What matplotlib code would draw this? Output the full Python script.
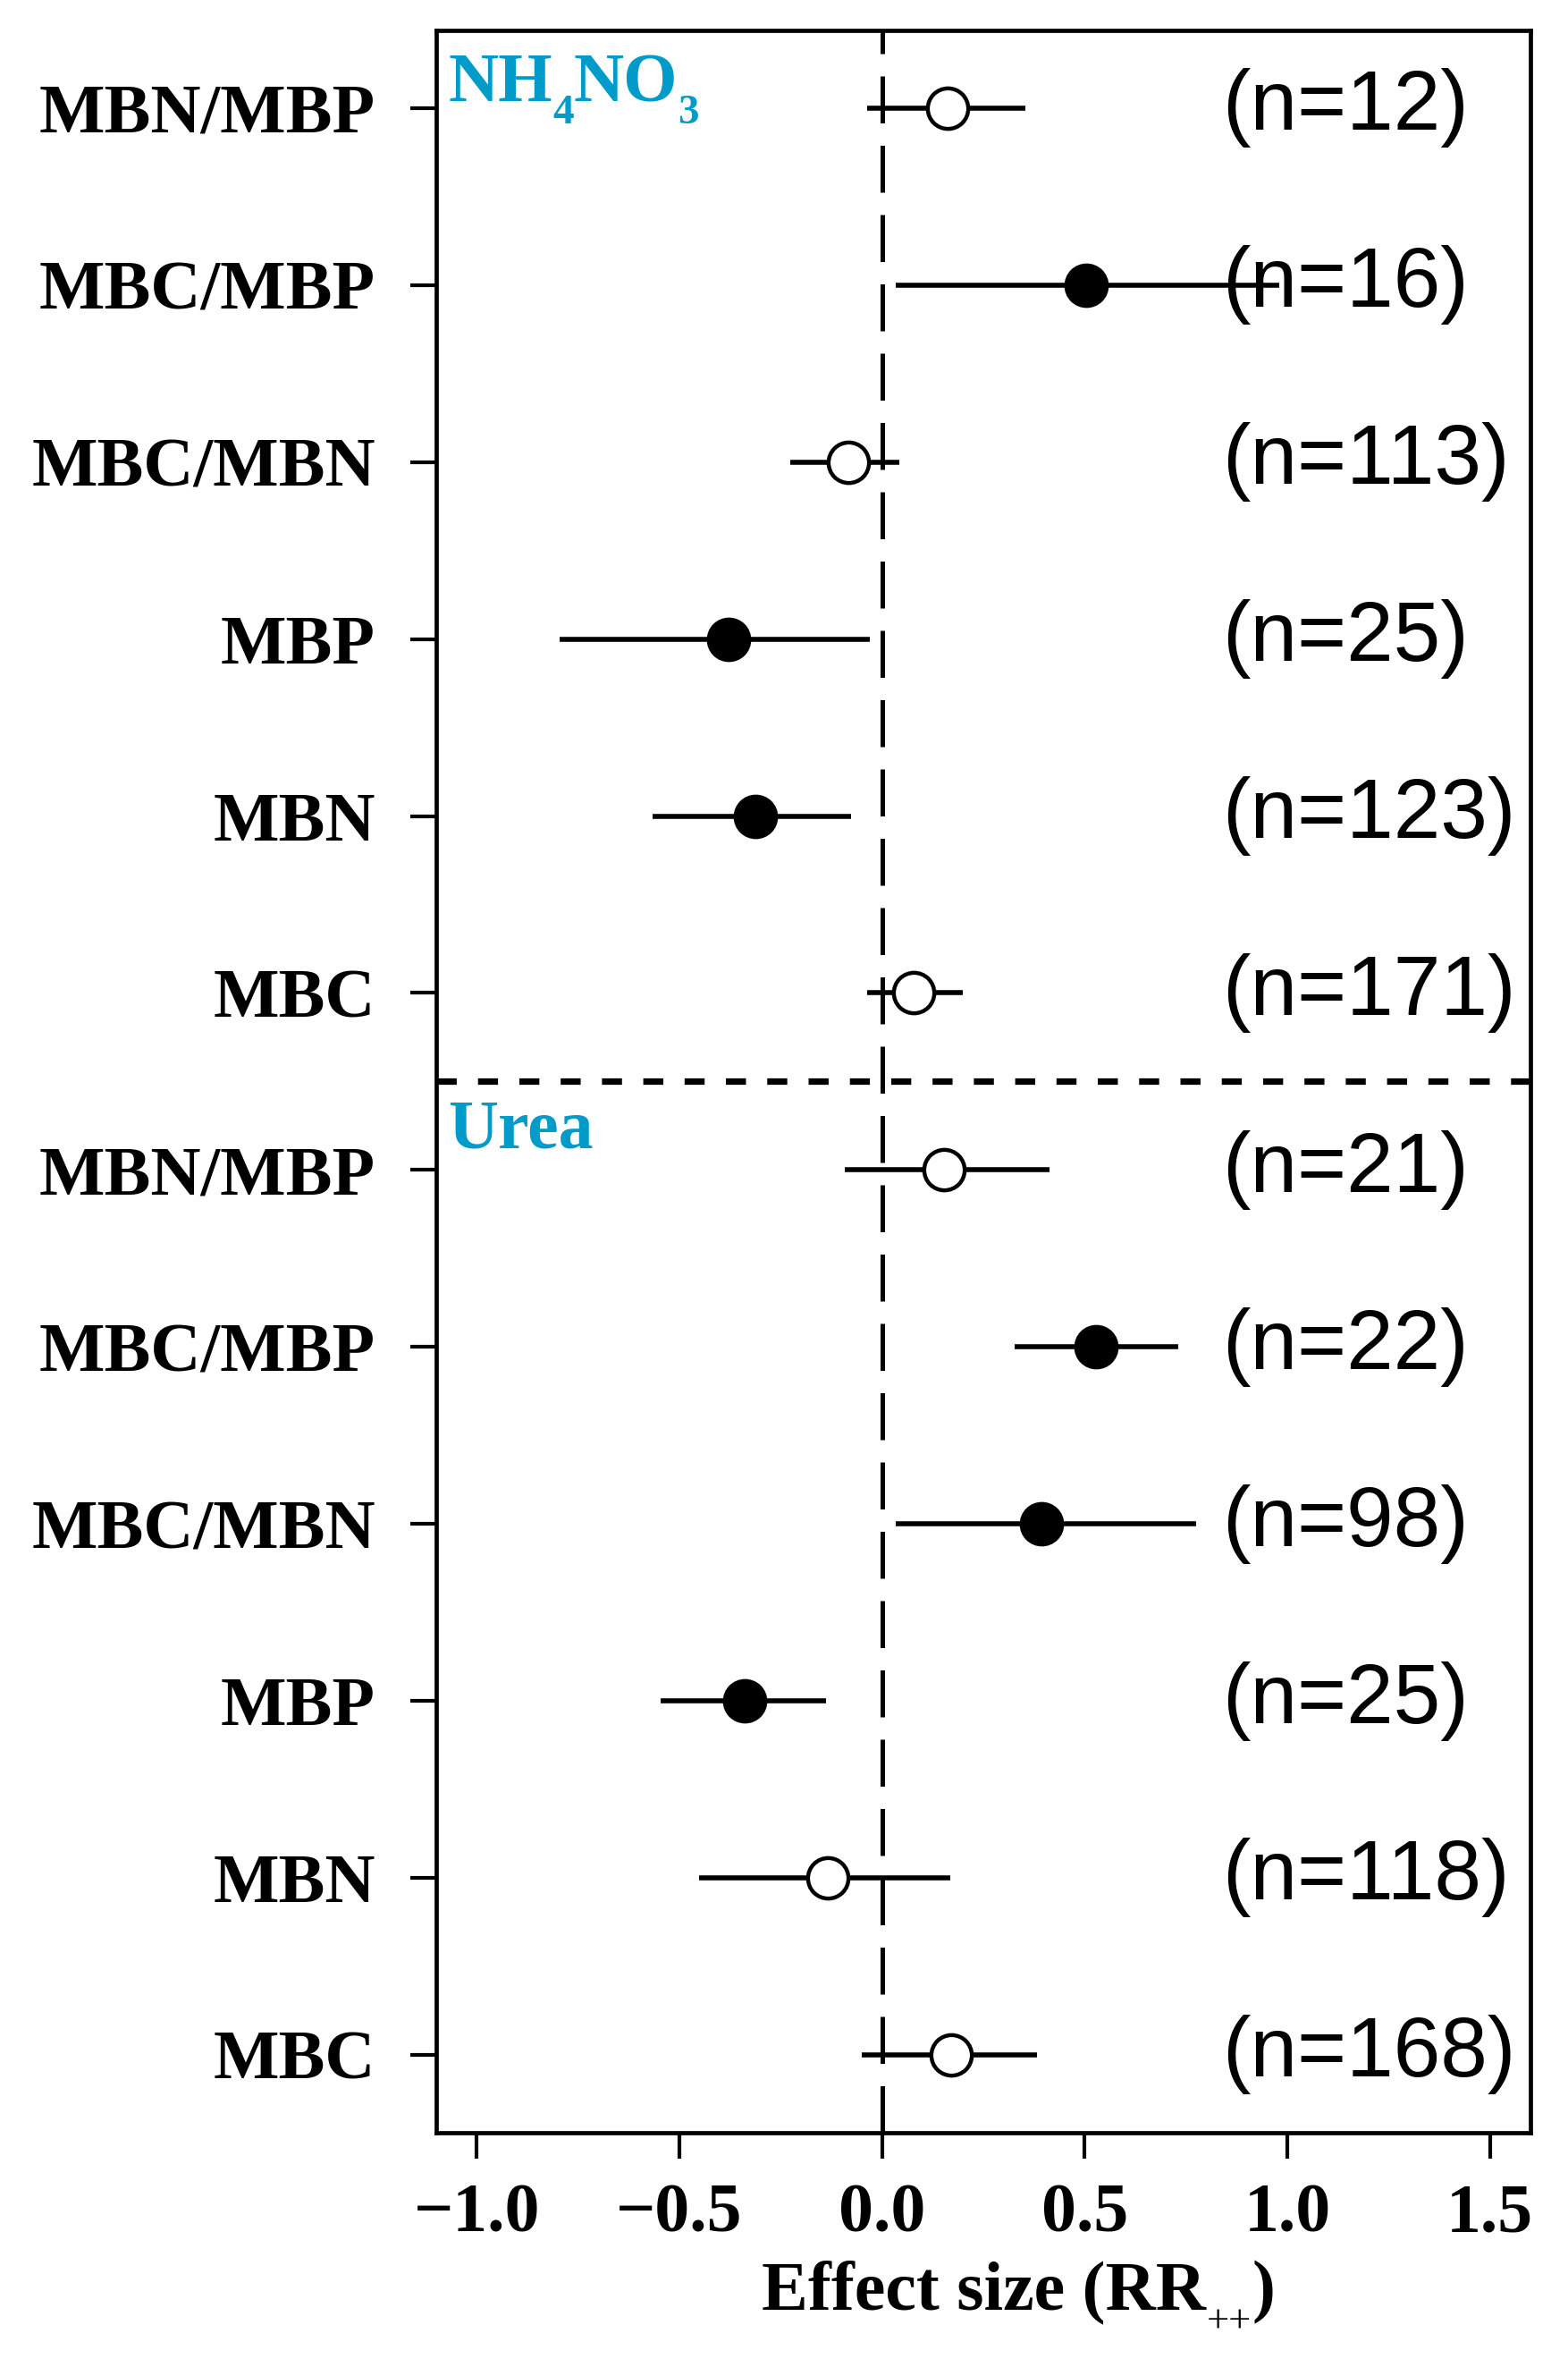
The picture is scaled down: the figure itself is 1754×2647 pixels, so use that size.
import matplotlib
matplotlib.use("Agg")
import matplotlib.pyplot as plt
import numpy as np

# rows listed top to bottom inside each fertilizer block
labels = ["MBN/MBP", "MBC/MBP", "MBC/MBN", "MBP", "MBN", "MBC"]

nh4_mean = [0.162, 0.504, -0.083, -0.379, -0.312, 0.079]
nh4_lo = [-0.037, 0.034, -0.226, -0.795, -0.567, -0.037]
nh4_hi = [0.354, 0.980, 0.043, -0.031, -0.077, 0.199]
nh4_n = [12, 16, 113, 25, 123, 171]

urea_mean = [0.154, 0.528, 0.394, -0.340, -0.133, 0.171]
urea_lo = [-0.092, 0.327, 0.034, -0.546, -0.451, -0.050]
urea_hi = [0.414, 0.731, 0.775, -0.139, 0.169, 0.382]
urea_n = [21, 22, 98, 25, 118, 168]

xticks = [-1.0, -0.5, 0.0, 0.5, 1.0, 1.5]

plt.rcParams['font.family'] = 'Liberation Serif'
plt.rcParams['font.weight'] = 'bold'
teal = '#009BC8'

fig = plt.figure(figsize=(8.77, 13.235), dpi=200)
ax = fig.add_axes([0.2782, 0.0990, 0.6979, 0.8882])

mean = np.array(nh4_mean + urea_mean)
lo = np.array(nh4_lo + urea_lo)
hi = np.array(nh4_hi + urea_hi)
ns = nh4_n + urea_n
y = np.arange(len(mean), 0, -1)  # 12 at top .. 1 at bottom

ax.axvline(0, color='k', lw=1.8, dashes=(10.5, 5), zorder=1)
ax.axhline(6.5, color='k', lw=2.6, dashes=(3.1, 3.3), zorder=1)

ax.hlines(y, lo, hi, color='k', lw=2.0, zorder=2)
sig = (lo > 0) | (hi < 0)  # CI not crossing zero -> filled dot
ax.plot(mean[sig], y[sig], 'o', ms=16.3, mfc='k', mec='k', mew=1.6, ls='none', zorder=3)
ax.plot(mean[~sig], y[~sig], 'o', ms=16.3, mfc='white', mec='k', mew=1.6, ls='none', zorder=3)

for yi, n in zip(y, ns):
    ax.text(0.84, yi, "(n={})".format(n), fontsize=34, family='Liberation Sans',
            weight='normal', va='center', ha='left', zorder=4)

# group labels, subscripts dropped below the baseline as in the original
t = ax.text(-1.07, 12.04, "NH", fontsize=28, color=teal, ha='left', va='baseline')
s4 = ax.annotate("4", xy=(1, 0), xycoords=t, xytext=(0, -6.5), textcoords='offset points',
                 fontsize=17, color=teal, ha='left', va='bottom')
tn = ax.annotate("NO", xy=(1, 0), xycoords=(s4, t), xytext=(0, 0), textcoords='offset points',
                 fontsize=28, color=teal, ha='left', va='bottom')
ax.annotate("3", xy=(1, 0), xycoords=(tn, t), xytext=(0, -6.5), textcoords='offset points',
            fontsize=17, color=teal, ha='left', va='bottom')
ax.text(-1.07, 6.126, "Urea", color=teal, fontsize=28, va='baseline')

ax.set_xlim(-1.1, 1.6)
ax.set_ylim(0.56, 12.44)
ax.set_xticks(xticks)
ax.set_xticklabels(["{:.1f}".format(v).replace('-', '\u2212') for v in xticks])
ax.set_yticks(y)
ax.set_yticklabels(labels + labels)
ax.tick_params(direction='out', length=10.5, width=1.5, labelsize=28)
ax.tick_params(axis='x', pad=9.7)
ax.tick_params(axis='y', pad=14)
for s in ax.spines.values():
    s.set_linewidth(1.7)

# x label built from pieces so the "++" subscript sits like the original
t1 = ax.text(0.297, -0.0838, "Effect size (RR", transform=ax.transAxes,
             fontsize=28, ha='left', va='baseline')
t2 = ax.annotate("++", xy=(1, 0), xycoords=t1, xytext=(0.5, -3.5),
                 textcoords='offset points', fontsize=16, weight='normal',
                 ha='left', va='baseline')
ax.annotate(")", xy=(1, 0), xycoords=(t2, t1), xytext=(0.3, 0),
            textcoords='offset points', fontsize=28, ha='left', va='bottom')

fig.savefig("out.png", dpi=200)
